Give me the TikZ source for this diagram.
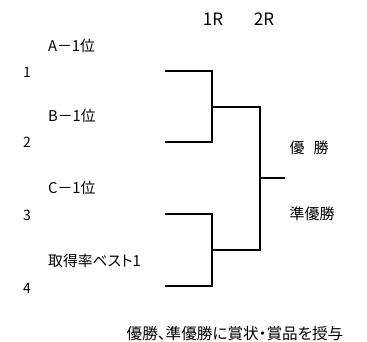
\documentclass[tikz,border=0pt]{standalone}
\usepackage{fontspec}
\setmainfont[Script=CJK, RawFeature=+palt]{Noto Sans CJK JP}
\usetikzlibrary{positioning}
\tikzset{
entry/.style={anchor=west, inner sep=0pt, font=\fontsize{14.8}{16}\selectfont},
seed/.style={anchor=west, inner sep=0pt, font=\fontsize{14}{16}\selectfont},
round/.style={inner sep=0pt, font=\fontsize{17}{19}\selectfont},
prize/.style={inner sep=0pt, font=\fontsize{15}{17}\selectfont},
bracket/.style={line width=2pt},
}

\begin{document}
\begin{tikzpicture}[x=1pt, y=-1pt]
\useasboundingbox (0,0) rectangle (367,342);
%Place the nodes
\node[round] (r1) at (213,19) {1R};
\node[round] (r2) at (264,19) {2R};

\node[entry] (tA) at (48,46) {A－1位};
\node[entry] (tB) at (48,116) {B－1位};
\node[entry] (tC) at (48,188) {C－1位};
\node[entry] (tD) at (48,261) {取得率ベスト1};

\node[seed] (n1) at (23,72) {1};
\node[seed] (n2) at (23,142) {2};
\node[seed] (n3) at (23,215) {3};
\node[seed] (n4) at (23,288) {4};

\coordinate (s1) at (165,71);
\coordinate (s2) at (165,142);
\coordinate (s3) at (165,214);
\coordinate (s4) at (165,286);
\coordinate (m1) at (212,107);
\coordinate (m2) at (212,250);
\coordinate (f) at (260,178);
\coordinate (w) at (285,178);

\node[prize] (win) at (309,148) {優\hspace{0.6em}勝};
\node[prize] (second) at (312,214) {準優勝};

%1R
\draw[bracket] (s1) -| (m1) |- (s2);
\draw[bracket] (s3) -| (m2) |- (s4);

%2R
\draw[bracket] (m1) -| (f) |- (m2);
\draw[bracket] (f) -- (w);

\node[prize, font=\fontsize{15.6}{17}\selectfont] (note) at (235,334) {優勝、準優勝に賞状・賞品を授与};

\end{tikzpicture}
\end{document}
